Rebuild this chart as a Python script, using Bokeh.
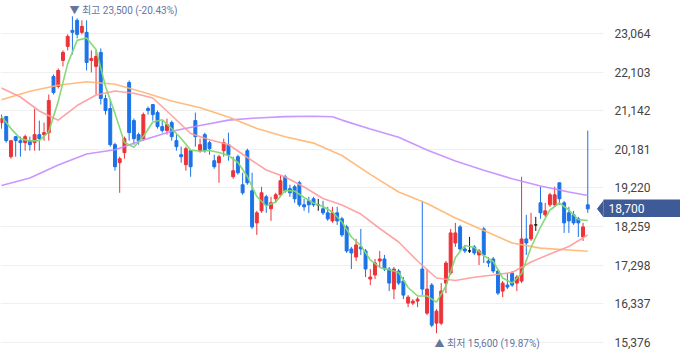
import numpy as np
from bokeh.plotting import figure
from bokeh.models import FixedTicker, NumeralTickFormatter, Range1d
from bokeh.core.properties import value
from bokeh.embed import file_html
from bokeh.resources import INLINE

# ---------------- data ----------------
opens = [20850, 21000, 20000, 20500, 20400, 20350, 20400, 20350, 20550, 20550,
         20600, 22000, 21750, 22400, 22750, 23150, 23400, 23100, 23100, 22400,
         22250, 22600, 21450, 21200, 20300, 19850, 20100, 21850, 20900, 20550,
         20450, 21200, 21300, 21100, 20750, 20650, 20850, 20400, 20050, 19800,
         20150, 20900, 20150, 20550, 20350, 19900, 19850, 20150, 20300, 19500,
         20000, 19300, 20150, 19150, 18350, 18650, 19000, 18700, 18950, 19050,
         19500, 19200, 19250, 19350, 18800, 18900, 18950, 18800, 18700, 18600,
         18400, 18600, 18450, 18250, 17700, 17500, 17750, 17650, 16950, 17050,
         17400, 17450, 17200, 16700, 17150, 16900, 16350, 16350, 16400, 17200,
         16100, 16800, 15850, 15850, 16850, 17100, 17850, 18250, 17700, 17650,
         17750, 17550, 18200, 17400, 17450, 17150, 16650, 16800, 17100, 16850,
         16900, 17950, 17950, 18300, 18850, 18550, 18800, 18800, 19350, 18850,
         18600, 18550, 18450, 18000, 18800]
highs = [21050, 21000, 20400, 20500, 20500, 20550, 20500, 21200, 20900, 20850,
         21550, 22050, 22200, 22650, 23050, 23500, 23450, 23400, 23400, 22650,
         22650, 22700, 21550, 21400, 20350, 20000, 20500, 21900, 20950, 20600,
         21100, 21250, 21300, 21150, 20900, 20950, 20900, 20550, 20250, 20250,
         20150, 21100, 20450, 20600, 20400, 20050, 20050, 20450, 20600, 20000,
         20050, 19600, 20200, 19600, 18650, 19250, 19050, 19000, 19100, 19550,
         19550, 19300, 19300, 19400, 18950, 19000, 19000, 18950, 18900, 18750,
         18750, 18750, 18500, 18300, 17750, 17950, 18200, 17700, 17200, 17450,
         17650, 17550, 17250, 17250, 17200, 17000, 16550, 16450, 16500, 18900,
         17200, 16850, 16200, 16850, 17400, 18200, 18350, 18300, 17800, 18000,
         17800, 17700, 18250, 17500, 17500, 17200, 16900, 17100, 17150, 17050,
         19500, 18550, 18600, 18500, 19250, 18850, 19100, 19250, 19350, 18900,
         18750, 18650, 18500, 18350, 20650]
lows = [20700, 20350, 19950, 20000, 20000, 20150, 20150, 20150, 20150, 20400,
        20400, 21550, 21700, 22250, 22650, 22550, 22950, 23050, 22150, 22100,
        21550, 21300, 21050, 20250, 19650, 19100, 19950, 20400, 20300, 20300,
        20400, 21050, 20900, 20700, 20600, 20550, 20400, 20150, 19850, 19650,
        19500, 20250, 20100, 20100, 20050, 19700, 19350, 20000, 19900, 19450,
        19550, 19050, 19300, 18200, 18050, 18600, 18600, 18400, 18850, 19000,
        19100, 19000, 18850, 18750, 18650, 18600, 18750, 18650, 18550, 18400,
        18350, 18300, 18000, 17600, 17200, 17400, 17550, 17000, 16800, 16950,
        17250, 17150, 16650, 16450, 16800, 16450, 16250, 16300, 16250, 16550,
        16050, 15750, 15600, 15800, 16600, 17050, 17750, 17650, 17600, 17600,
        17550, 17300, 17350, 17250, 17100, 16550, 16500, 16700, 16750, 16650,
        16850, 17550, 17900, 18150, 18450, 18500, 18750, 18750, 18800, 18100,
        18100, 18300, 18000, 17900, 18600]
closes = [20950, 20400, 20400, 20400, 20350, 20500, 20300, 20550, 20450, 20600,
          21400, 21600, 22150, 22600, 23000, 23100, 23050, 23250, 22350, 22450,
          22500, 21450, 21150, 20300, 19750, 19950, 20450, 20600, 20450, 20400,
          21050, 21150, 21050, 20750, 20650, 20800, 20500, 20250, 20000, 20200,
          19750, 20500, 20300, 20150, 20200, 19750, 20000, 20350, 20050, 19650,
          19600, 19100, 19350, 18250, 18600, 19100, 18800, 18850, 19050, 19400,
          19150, 19100, 18950, 18800, 18750, 18800, 18800, 18800, 18600, 18450,
          18600, 18400, 18050, 17650, 17600, 17800, 17700, 17200, 17000, 17350,
          17450, 17200, 16850, 17200, 16850, 16550, 16500, 16400, 16450, 16700,
          16700, 15800, 16150, 16650, 17350, 18100, 18100, 17700, 17650, 17650,
          17600, 17650, 17550, 17350, 17150, 16600, 16850, 16750, 16800, 17000,
          17950, 17850, 18300, 18300, 18600, 18650, 19050, 19050, 18950, 18350,
          18400, 18350, 18350, 18250, 18700]

ma5_idx = list(range(0, 125, 2))
ma5 = [21000, 20700, 20450, 20390, 20400, 20620, 21380, 22320, 22900, 22960,
       22670, 21750, 21080, 20354, 20237, 20504, 20865, 20920, 20703, 20454,
       20167, 20137, 20155, 20105, 20030, 19855, 19506, 19008, 18771, 18871,
       19157, 19145, 18983, 18846, 18758, 18621, 18372, 17998, 17786, 17425,
       17238, 17180, 17113, 16739, 16527, 16527, 16373, 16776, 17487, 17786,
       17736, 17537, 17387, 16976, 16851, 17088, 17736, 18247, 18671, 18846,
       18671, 18434, 18409]
ma20_idx = list(range(0, 125, 4))
ma20 = [21713, 21488, 21139, 20910, 21276, 21538, 21638, 21583, 21463, 21027,
        20578, 20424, 20304, 19980, 19668, 19494, 19244, 18958, 18796, 18571,
        18210, 17873, 17400, 16976, 16913, 16996, 17051, 17113, 17375, 17574,
        17761, 18048]
ma60_idx = list(range(0, 121, 6)) + [124]
ma60 = [21421, 21630, 21782, 21870, 21807, 21605, 21389, 21221, 20990, 20703,
        20498, 20339, 20030, 19561, 19120, 18833, 18472, 18160, 17848, 17721,
        17674, 17644]
ma120_idx = [0, 6, 12, 18, 24, 30, 36, 42, 48, 54, 60, 66, 70, 72, 78, 84, 90,
             96, 102, 108, 114, 120, 124]
ma120 = [19282, 19469, 19793, 20067, 20172, 20416, 20636, 20778, 20912, 20965,
         21000, 21010, 20995, 20912, 20693, 20484, 20167, 19893, 19663, 19449,
         19269, 19120, 19033]

tick_values = [15376, 16337, 17298, 18259, 19220, 20181, 21142, 22103, 23064]

# ---------------- styling / layout ----------------
W, H = 680, 358
RIGHT = 77
FRAME_W = W - RIGHT
PX_PER_BAR = 4.728
VAL_PER_PX = 24.93
Y_TOP = 23894
TAG_H = 18

RED = "#ec3338"
BLUE = "#1b73e8"
DOJI = "#111111"
NOTE = "#66759f"
TAG = "#3f5b97"
FONT = "Roboto, 'Noto Sans CJK KR', sans-serif"

n = len(opens)
idx = list(range(n))
colors = [RED if c > o else (BLUE if c < o else DOJI) for o, c in zip(opens, closes)]
tops = [max(o, c) for o, c in zip(opens, closes)]
bots = [min(o, c) for o, c in zip(opens, closes)]

x_start = -1 / PX_PER_BAR
x_end = (FRAME_W - 1) / PX_PER_BAR
y_end = Y_TOP
y_start = Y_TOP - H * VAL_PER_PX

p = figure(width=W, height=H, output_backend="svg", toolbar_location=None,
           x_axis_location=None, y_axis_location="right",
           x_range=Range1d(x_start, x_end), y_range=Range1d(y_start, y_end),
           min_border_left=0, min_border_right=RIGHT, min_border_top=0,
           min_border_bottom=0, background_fill_color="white",
           border_fill_color="white")
p.styles = {"position": "absolute", "left": "0px", "top": "0px"}
p.outline_line_color = None
for g in p.xgrid:
    g.visible = False

ticker = FixedTicker(ticks=tick_values)
p.yaxis.ticker = ticker
p.ygrid.ticker = ticker
p.ygrid.grid_line_color = "#efefef"
p.ygrid.grid_line_width = 1
p.yaxis.formatter = NumeralTickFormatter(format="0,0")
p.yaxis.axis_line_color = None
p.yaxis.major_tick_line_color = None
p.yaxis.minor_tick_line_color = None
p.yaxis.major_label_standoff = 5
p.yaxis.major_label_text_font = "Roboto"
p.yaxis.major_label_text_font_size = "12px"
p.yaxis.major_label_text_color = "#444444"

# candles
p.segment(x0=idx, y0=lows, x1=idx, y1=highs, line_color=colors, line_width=1)
p.vbar(x=idx, top=tops, bottom=bots, width=0.62, fill_color=colors,
       line_color=colors, line_width=1)

# moving averages
p.line(ma120_idx, ma120, line_color="#c28cff", line_width=1.6, line_alpha=0.9)
p.line(ma60_idx, ma60, line_color="#ffb570", line_width=1.6, line_alpha=0.9)
p.line(ma20_idx, ma20, line_color="#ff9a9a", line_width=1.6, line_alpha=0.9)
p.line(ma5_idx, ma5, line_color="#7fd86f", line_width=1.6, line_alpha=0.95)

# high / low notes
last = closes[-1]
hi_i = int(np.argmax(highs))
lo_i = int(np.argmin(lows))
hi = highs[hi_i]
lo = lows[lo_i]
hi_text = f"▼ 최고 {hi:,} ({(last - hi) / hi * 100:.2f}%)"
lo_text = f"▲ 최저 {lo:,} ({(last - lo) / lo * 100:.2f}%)"
p.text(x=[hi_i], y=[hi], text=[hi_text], text_font=value(FONT),
       text_font_size="10px", text_color=NOTE, text_align="left",
       text_baseline="middle", x_offset=-3, y_offset=-6)
p.text(x=[lo_i], y=[lo], text=[lo_text], text_font=value(FONT),
       text_font_size="10px", text_color=NOTE, text_align="left",
       text_baseline="middle", x_offset=-2, y_offset=10)

# last price tag: pointer inside the frame ...
half = TAG_H / 2 * VAL_PER_PX
p.patch([x_end - 6 / PX_PER_BAR, x_end + 0.2, x_end + 0.2],
        [last, last + half, last - half], fill_color=TAG, line_color=TAG)

# ... and the box over the axis area, as a small overlaid figure
tag_top = int(round((Y_TOP - last) / VAL_PER_PX - TAG_H / 2))
t = figure(width=RIGHT, height=TAG_H, output_backend="svg",
           toolbar_location=None, x_axis_location=None, y_axis_location=None,
           x_range=Range1d(0, RIGHT), y_range=Range1d(0, TAG_H),
           min_border=0, background_fill_color=TAG, border_fill_color=TAG)
t.outline_line_color = None
t.grid.visible = False
t.styles = {"position": "absolute", "left": f"{FRAME_W}px", "top": f"{tag_top}px"}
t.text(x=[5], y=[TAG_H / 2], text=[f"{last:,}"], text_color="white",
       text_font=value("Roboto"), text_font_size="12px",
       text_align="left", text_baseline="middle")

open("out.html", "w").write(file_html([p, t], INLINE))
